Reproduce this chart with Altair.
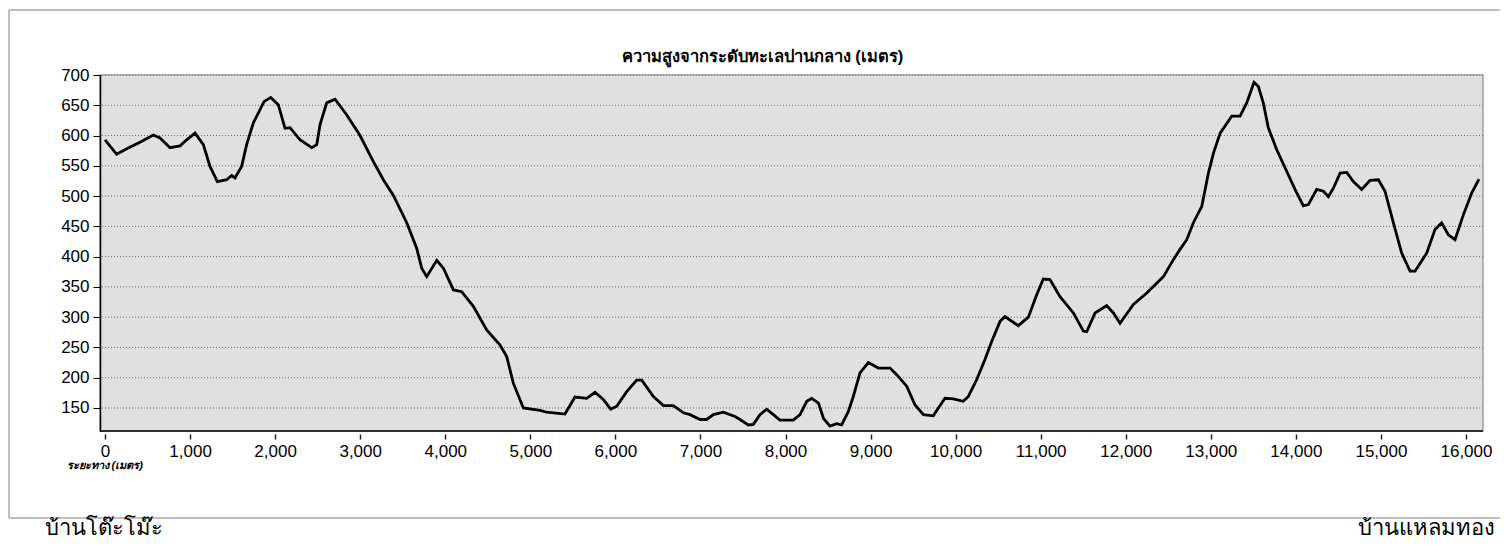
import altair as alt
import pandas as pd

distance = [0, 137, 255, 411, 568, 647, 764, 882, 960, 1058, 1156, 1234, 1321, 1430, 1489, 1528,
            1606, 1665, 1744, 1869, 1948, 2037, 2116, 2175, 2292, 2430, 2489, 2528, 2606, 2704,
            2842, 2998, 3155, 3272, 3390, 3547, 3664, 3723, 3782, 3900, 3978, 4096, 4193, 4330,
            4487, 4644, 4722, 4800, 4918, 5114, 5192, 5407, 5525, 5663, 5760, 5858, 5945, 6016,
            6133, 6251, 6310, 6447, 6565, 6682, 6800, 6878, 6995, 7073, 7152, 7269, 7406, 7465,
            7563, 7622, 7700, 7779, 7857, 7935, 8092, 8171, 8250, 8308, 8387, 8446, 8523, 8601,
            8660, 8738, 8797, 8876, 8974, 9091, 9229, 9307, 9425, 9523, 9621, 9738, 9797, 9875,
            9973, 10090, 10150, 10248, 10345, 10424, 10522, 10580, 10737, 10855, 10953, 11031,
            11109, 11227, 11384, 11502, 11541, 11639, 11776, 11855, 11933, 12090, 12247, 12443,
            12560, 12638, 12717, 12795, 12894, 12972, 13031, 13110, 13246, 13344, 13422, 13508,
            13559, 13617, 13676, 13774, 13892, 13990, 14088, 14147, 14245, 14324, 14382, 14441,
            14520, 14598, 14676, 14774, 14872, 14970, 15048, 15146, 15244, 15342, 15401, 15539,
            15636, 15714, 15793, 15871, 15969, 16067, 16153]

elevation = [593, 569, 578, 589, 601, 596, 580, 583, 593, 604, 585, 549, 524, 527, 534, 530,
             549, 585, 621, 656, 663, 651, 612, 613, 593, 580, 585, 618, 654, 660,
             634, 600, 557, 527, 501, 456, 414, 381, 367, 394, 381, 345, 342, 318,
             279, 254, 235, 191, 150, 146, 143, 140, 168, 166, 176, 164, 148, 153,
             177, 196, 196, 169, 154, 154, 142, 139, 131, 131, 139, 143, 136, 131,
             122, 123, 139, 148, 139, 130, 130, 139, 161, 166, 158, 133, 120, 124,
             122, 144, 169, 208, 225, 216, 216, 205, 186, 155, 139, 137, 150, 166,
             165, 161, 169, 197, 230, 260, 293, 301, 286, 300, 337, 363,
             362, 334, 307, 277, 276, 307, 319, 307, 290, 321, 340, 367,
             395, 412, 428, 456, 483, 538, 571, 604, 632, 632, 654, 688,
             681, 654, 613, 577, 541, 511, 484, 486, 511, 508, 499, 513,
             538, 539, 524, 511, 526, 527, 508, 456, 406, 376, 376, 406,
             445, 456, 436, 428, 469, 505, 528]

x_ticks = list(range(0, 16001, 1000))
y_ticks = list(range(150, 701, 50))

title_text = "ความสูงจากระดับทะเลปานกลาง (เมตร)"
x_title = "ระยะทาง (เมตร)"
left_place = "บ้านโต๊ะโม๊ะ"
right_place = "บ้านแหลมทอง"

W, H = 1383, 356
Y_MIN = 112

df = pd.DataFrame({"d": distance, "e": elevation})
grid_df = pd.DataFrame({"e": y_ticks})

xscale = alt.Scale(domain=[-59, 16200], nice=False, zero=False)
yscale = alt.Scale(domain=[Y_MIN, 700], nice=False, zero=False)

FONT = "Liberation Sans"
FRAME = "#a8a8a8"

y_axis = alt.Axis(values=y_ticks, domain=True, domainColor="black",
                  domainWidth=1.5, tickSize=7, tickColor="black",
                  labelFont=FONT, labelFontSize=17, labelColor="black",
                  labelPadding=4, grid=False, title=None)

one = alt.Data(values=[{}])

# outer frame (top, left, bottom edges; the right side runs off the page)
frame_top = alt.Chart(one).mark_rule(color=FRAME, strokeWidth=1.5, clip=False).encode(
    x=alt.value(-91), x2=alt.value(W + 17), y=alt.value(-65))
frame_left = alt.Chart(one).mark_rule(color=FRAME, strokeWidth=1.5, clip=False).encode(
    x=alt.value(-91), y=alt.value(-65), y2=alt.value(443))
frame_bottom = alt.Chart(one).mark_rule(color=FRAME, strokeWidth=1.5, clip=False).encode(
    x=alt.value(-91), x2=alt.value(W + 17), y=alt.value(443))

grid = alt.Chart(grid_df).mark_rule(color="#6e6e6e", strokeWidth=1, strokeDash=[1, 2]).encode(
    y=alt.Y("e:Q", scale=yscale, axis=y_axis))

line = alt.Chart(df).mark_line(color="black", strokeWidth=2.8).encode(
    x=alt.X("d:Q", scale=xscale,
            axis=alt.Axis(values=x_ticks, format=",d", offset=3, domain=False,
                          tickSize=5, tickColor="#222", tickWidth=1.5,
                          labelFont=FONT, labelFontSize=17, labelColor="black",
                          labelPadding=4, grid=False,
                          title=x_title, titleFont=FONT, titleFontSize=11,
                          titleFontStyle="italic", titleFontWeight="bold",
                          titleAnchor="start", titleAlign="left",
                          titleX=-34, titleY=31, titleBaseline="middle")),
    y=alt.Y("e:Q", scale=yscale, axis=y_axis),
)

bottom_rule = alt.Chart(one).mark_rule(color="black", strokeWidth=1.5).encode(
    x=alt.value(0), x2=alt.value(W), y=alt.value(H))

title_mark = alt.Chart(one).mark_text(
    fontSize=16.5, font=FONT, fontWeight="bold", align="center", baseline="middle",
    color="black", clip=False
).encode(x=alt.value(W / 2 - 29), y=alt.value(-18), text=alt.value(title_text))

labels = alt.Chart(one).mark_text(
    fontSize=22, font=FONT, baseline="middle", color="black", clip=False)
left_lbl = labels.encode(x=alt.value(-55), y=alt.value(453), text=alt.value(left_place),
                         ).mark_text(fontSize=22, font=FONT, baseline="middle",
                                     color="black", clip=False, align="left")
right_lbl = labels.encode(x=alt.value(W + 12), y=alt.value(453), text=alt.value(right_place),
                          ).mark_text(fontSize=22, font=FONT, baseline="middle",
                                      color="black", clip=False, align="right")

chart = alt.layer(
    frame_top, frame_left, frame_bottom, grid, line, bottom_rule,
    title_mark, left_lbl, right_lbl
).properties(
    width=W, height=H,
    autosize=alt.AutoSizeParams(type="none"),
    padding={"left": 92, "top": 67, "right": 17, "bottom": 111},
    background="white",
).configure_view(
    stroke="#a0a0a0", strokeWidth=1.5, fill="#e0e0e0"
)

chart.save("out.html", embed_options={"renderer": "svg", "actions": False})
